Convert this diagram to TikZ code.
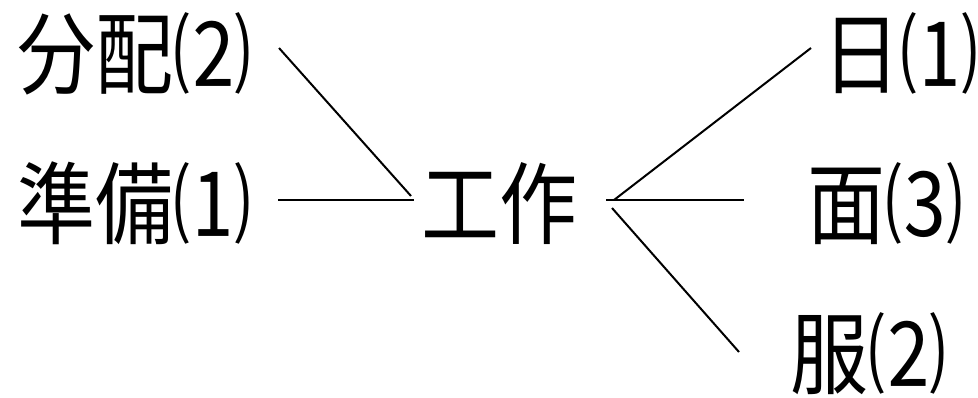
\documentclass[tikz,border=0pt]{standalone}
\usepackage{fontspec}
\newfontfamily\cjk{Noto Sans CJK JP}
\newcommand{\tall}[1]{\scalebox{1}[1.15]{#1}}
\tikzset{
  word/.style={anchor=base west,inner sep=0pt,font=\cjk\fontsize{78}{78}\selectfont},
  link/.style={line width=2pt}
}
\begin{document}
\begin{tikzpicture}[x=1pt,y=1pt]
\useasboundingbox (0,0) rectangle (978,397);
\node[word] (n1) at (17,309.5) {\tall{分配⑵}};
\node[word] (n2) at (17,159.5) {\tall{準備⑴}};
\node[word] (c) at (421,159.5) {\tall{工作}};
\node[word] (r1) at (822,309.5) {\tall{日⑴}};
\node[word] (r2) at (807,159.5) {\tall{面⑶}};
\node[word] (r3) at (790,9.5) {\tall{服⑵}};
\coordinate (a1) at (279,349);
\coordinate (a2) at (411,201);
\coordinate (b1) at (278,197);
\coordinate (b2) at (414,197);
\coordinate (d1) at (614,197);
\coordinate (d2) at (811,349);
\coordinate (e1) at (606,197);
\coordinate (e2) at (744,197);
\coordinate (f1) at (612,189);
\coordinate (f2) at (739,45);
\draw[link] (a1) -- (a2);
\draw[link] (b1) -- (b2);
\draw[link] (d1) -- (d2);
\draw[link] (e1) -- (e2);
\draw[link] (f1) -- (f2);
\end{tikzpicture}
\end{document}
